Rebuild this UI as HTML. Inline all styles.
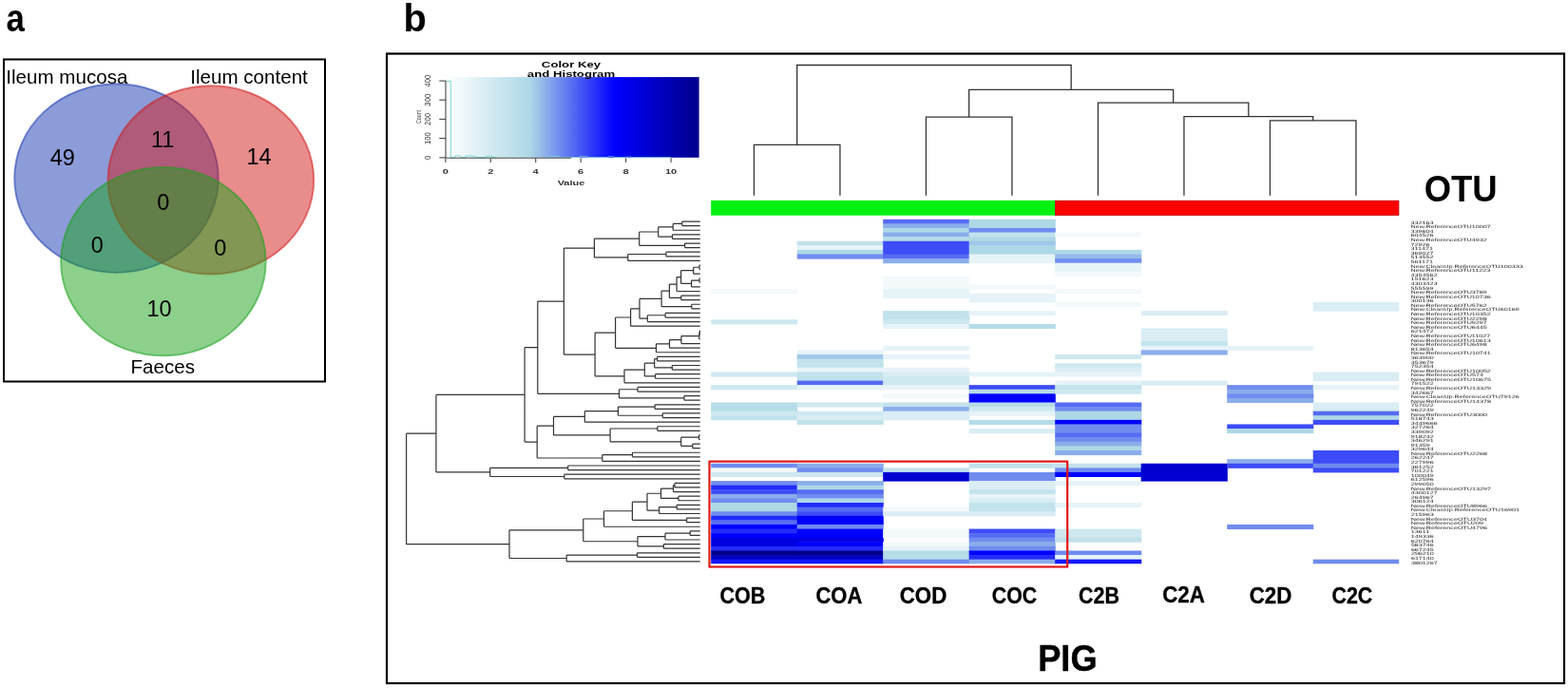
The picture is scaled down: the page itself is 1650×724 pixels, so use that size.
<!DOCTYPE html>
<html><head><meta charset="utf-8"><title>Figure</title>
<style>
html,body{margin:0;padding:0;background:#fff;width:1650px;height:724px;overflow:hidden;}
svg{display:block;font-family:'Liberation Sans', Arial, Helvetica, sans-serif;}
</style></head><body>
<svg width="1650" height="724" viewBox="0 0 1650 724">
<rect width="1650" height="724" fill="#fff"/>
<text x="6" y="32.7" font-size="41" font-weight="bold" transform="translate(1.4 0) scale(0.85 1)">a</text>
<rect x="4" y="62.5" width="338" height="339" fill="none" stroke="#000" stroke-width="2"/>
<ellipse cx="122.5" cy="187.6" rx="107.3" ry="99.3" fill="#1939b1" fill-opacity="0.5" stroke="#1939b1" stroke-opacity="0.55" stroke-width="1.9"/>
<ellipse cx="221.9" cy="189.4" rx="108.3" ry="99.1" fill="#d11919" fill-opacity="0.5" stroke="#d11919" stroke-opacity="0.55" stroke-width="1.9"/>
<ellipse cx="171.9" cy="275.2" rx="107.8" ry="99.2" fill="#19a119" fill-opacity="0.5" stroke="#19a119" stroke-opacity="0.55" stroke-width="1.9"/>
<g font-size="20.6">
<text x="6.2" y="87.6">Ileum mucosa</text>
<text x="200.2" y="87.8">Ileum content</text>
<text x="171.3" y="393.4" text-anchor="middle">Faeces</text>
</g>
<g font-size="23.5" text-anchor="middle">
<text x="65.85" y="174.3">49</text>
<text x="171.2" y="155.1">11</text>
<text x="272.6" y="172.5">14</text>
<text x="171.8" y="221.4">0</text>
<text x="102.3" y="266.3">0</text>
<text x="231.7" y="269.0">0</text>
<text x="167.5" y="332.5">10</text>
</g>
<text x="0" y="0" font-size="41" font-weight="bold" transform="translate(424.6 32.9) scale(0.97 1)">b</text>
<rect x="407" y="56.5" width="1239" height="662.5" fill="none" stroke="#000" stroke-width="2.2"/>
<defs><linearGradient id="ck" x1="0" x2="1" y1="0" y2="0"><stop offset="0" stop-color="#ffffff"/><stop offset="0.333" stop-color="#add8e6"/><stop offset="0.667" stop-color="#0000ff"/><stop offset="1" stop-color="#00008b"/></linearGradient></defs>
<rect x="468.8" y="81.1" width="266.8" height="84.7" fill="url(#ck)"/>
<g font-weight="bold" font-size="8.8" text-anchor="middle" transform="translate(601 0) scale(1.5 1)"><text x="0" y="70.9">Color Key</text><text x="0" y="81.5">and Histogram</text></g>
<path d="M469 85.3H474.3V166" fill="none" stroke="#74d8d0" stroke-width="1"/>
<path d="M474.3 165.6H478.8V164H484.8V165.6H490.3V164H496V164.6H500.6V165.6H511.5V164.4H518.2V165.6H522" fill="none" stroke="#74d8d0" stroke-width="0.9"/>
<path d="M575 165.5H580V164.5H588V165.5H610V164.6H618V165.5H640V164.8H646V165.5H660V165H664V165.5H706" fill="none" stroke="#74d8d0" stroke-width="0.9" opacity="0.8"/>
<g stroke="#444" stroke-width="1.1" fill="none">
<path d="M469 85.1V165.9"/>
<path d="M462.3 85.1H469"/>
<path d="M462.3 105.2H469"/>
<path d="M462.3 125.4H469"/>
<path d="M462.3 145.6H469"/>
<path d="M462.3 165.9H469"/>
<path d="M468.8 166.3H601"/>
<path d="M468.8 166.3V171.1"/>
<path d="M516.26 166.3V171.1"/>
<path d="M563.72 166.3V171.1"/>
<path d="M611.18 166.3V171.1"/>
<path d="M658.64 166.3V171.1"/>
<path d="M706.1 166.3V171.1"/>
</g>
<g font-size="7.2" fill="#333" font-weight="bold" text-anchor="middle">
<text transform="translate(468.8 182.8) scale(1.55 1)" x="0" y="0">0</text>
<text transform="translate(516.26 182.8) scale(1.55 1)" x="0" y="0">2</text>
<text transform="translate(563.72 182.8) scale(1.55 1)" x="0" y="0">4</text>
<text transform="translate(611.18 182.8) scale(1.55 1)" x="0" y="0">6</text>
<text transform="translate(658.64 182.8) scale(1.55 1)" x="0" y="0">8</text>
<text transform="translate(706.1 182.8) scale(1.55 1)" x="0" y="0">10</text>
<text transform="translate(601 195.2) scale(1.45 1)" x="0" y="0" font-size="7.6">Value</text>
<text transform="translate(453.4 85.1) scale(1.22 1) rotate(-90)" x="0" y="0" font-size="7.8" font-weight="normal">400</text>
<text transform="translate(453.4 105.2) scale(1.22 1) rotate(-90)" x="0" y="0" font-size="7.8" font-weight="normal">300</text>
<text transform="translate(453.4 125.4) scale(1.22 1) rotate(-90)" x="0" y="0" font-size="7.8" font-weight="normal">200</text>
<text transform="translate(453.4 145.6) scale(1.22 1) rotate(-90)" x="0" y="0" font-size="7.8" font-weight="normal">100</text>
<text transform="translate(453.4 165.9) scale(1.22 1) rotate(-90)" x="0" y="0" font-size="7.8" font-weight="normal">0</text>
<text transform="translate(443.2 123) scale(1.3 1) rotate(-90)" x="0" y="0" font-size="5.3" font-weight="normal">Count</text>
</g>
<path d="M793.45 205.8V152.4H883.95V205.8M974.45 205.8V123.2H1064.95V205.8M1336.45 205.8V126.8H1426.95V205.8M1245.95 205.8V122.7H1381.7V126.8M1155.45 205.8V108.2H1313.83V122.7M1019.7 123.2V94.4H1234.64V108.2M838.7 152.4V68.5H1127.17V94.4" fill="none" stroke="#333" stroke-width="1.3"/>
<rect x="748.2" y="210.9" width="362" height="15.8" fill="#00f010"/>
<rect x="1110.6" y="211.2" width="361.3" height="15.2" fill="#ff0000" stroke="#c00000" stroke-width="0.8"/>
<g shape-rendering="auto"><rect x="748.2" y="304.21" width="91.1" height="5.09" fill="#f3f9fb"/><rect x="748.2" y="336.32" width="91.1" height="5.09" fill="#cee8f0"/><rect x="748.2" y="391.38" width="91.1" height="5.09" fill="#cee8f0"/><rect x="748.2" y="405.14" width="91.1" height="5.09" fill="#cee8f0"/><rect x="748.2" y="423.5" width="91.1" height="9.68" fill="#b5dce8"/><rect x="748.2" y="432.67" width="91.1" height="5.09" fill="#cee8f0"/><rect x="748.2" y="437.26" width="91.1" height="5.09" fill="#c2e2ec"/><rect x="748.2" y="487.73" width="91.1" height="5.09" fill="#708cef"/><rect x="748.2" y="492.32" width="91.1" height="5.09" fill="#f3f9fb"/><rect x="748.2" y="496.9" width="91.1" height="5.09" fill="#cee8f0"/><rect x="748.2" y="506.08" width="91.1" height="5.09" fill="#708cef"/><rect x="748.2" y="510.67" width="91.1" height="5.09" fill="#232bfa"/><rect x="748.2" y="515.26" width="91.1" height="5.09" fill="#3d4cf6"/><rect x="748.2" y="519.84" width="91.1" height="5.09" fill="#8aadeb"/><rect x="748.2" y="524.43" width="91.1" height="5.09" fill="#708cef"/><rect x="748.2" y="529.02" width="91.1" height="9.68" fill="#add8e6"/><rect x="748.2" y="538.2" width="91.1" height="5.09" fill="#708cef"/><rect x="748.2" y="542.78" width="91.1" height="5.09" fill="#232bfa"/><rect x="748.2" y="547.37" width="91.1" height="5.09" fill="#566cf2"/><rect x="748.2" y="551.96" width="91.1" height="5.09" fill="#0000ff"/><rect x="748.2" y="556.55" width="91.1" height="5.09" fill="#232bfa"/><rect x="748.2" y="561.14" width="91.1" height="5.09" fill="#0000ff"/><rect x="748.2" y="565.72" width="91.1" height="9.68" fill="#0000e2"/><rect x="748.2" y="574.9" width="91.1" height="5.09" fill="#232bfa"/><rect x="748.2" y="579.49" width="91.1" height="5.09" fill="#00008b"/><rect x="748.2" y="584.08" width="91.1" height="5.09" fill="#0000bf"/><rect x="748.2" y="588.66" width="91.1" height="4.59" fill="#1318fc"/><rect x="838.7" y="253.74" width="91.1" height="5.09" fill="#c2e2ec"/><rect x="838.7" y="258.33" width="91.1" height="5.09" fill="#e6f3f8"/><rect x="838.7" y="262.92" width="91.1" height="5.09" fill="#add8e6"/><rect x="838.7" y="267.5" width="91.1" height="5.09" fill="#708cef"/><rect x="838.7" y="368.44" width="91.1" height="5.09" fill="#e6f3f8"/><rect x="838.7" y="373.03" width="91.1" height="5.09" fill="#9fc7e8"/><rect x="838.7" y="377.62" width="91.1" height="9.68" fill="#c2e2ec"/><rect x="838.7" y="386.79" width="91.1" height="5.09" fill="#e6f3f8"/><rect x="838.7" y="391.38" width="91.1" height="9.68" fill="#c2e2ec"/><rect x="838.7" y="400.56" width="91.1" height="5.09" fill="#566cf2"/><rect x="838.7" y="405.14" width="91.1" height="5.09" fill="#e6f3f8"/><rect x="838.7" y="423.5" width="91.1" height="5.09" fill="#cee8f0"/><rect x="838.7" y="432.67" width="91.1" height="5.09" fill="#cee8f0"/><rect x="838.7" y="437.26" width="91.1" height="5.09" fill="#daedf4"/><rect x="838.7" y="441.85" width="91.1" height="5.09" fill="#c2e2ec"/><rect x="838.7" y="487.73" width="91.1" height="5.09" fill="#8aadeb"/><rect x="838.7" y="492.32" width="91.1" height="5.09" fill="#708cef"/><rect x="838.7" y="496.9" width="91.1" height="5.09" fill="#cee8f0"/><rect x="838.7" y="506.08" width="91.1" height="5.09" fill="#8aadeb"/><rect x="838.7" y="510.67" width="91.1" height="5.09" fill="#add8e6"/><rect x="838.7" y="515.26" width="91.1" height="5.09" fill="#566cf2"/><rect x="838.7" y="519.84" width="91.1" height="5.09" fill="#708cef"/><rect x="838.7" y="524.43" width="91.1" height="5.09" fill="#add8e6"/><rect x="838.7" y="529.02" width="91.1" height="5.09" fill="#232bfa"/><rect x="838.7" y="533.61" width="91.1" height="5.09" fill="#566cf2"/><rect x="838.7" y="538.2" width="91.1" height="5.09" fill="#3d4cf6"/><rect x="838.7" y="542.78" width="91.1" height="9.68" fill="#0000ff"/><rect x="838.7" y="551.96" width="91.1" height="5.09" fill="#708cef"/><rect x="838.7" y="556.55" width="91.1" height="9.68" fill="#0000ff"/><rect x="838.7" y="565.72" width="91.1" height="5.09" fill="#0000e2"/><rect x="838.7" y="570.31" width="91.1" height="5.09" fill="#0000ff"/><rect x="838.7" y="574.9" width="91.1" height="5.09" fill="#232bfa"/><rect x="838.7" y="579.49" width="91.1" height="5.09" fill="#00008b"/><rect x="838.7" y="584.08" width="91.1" height="5.09" fill="#0000bf"/><rect x="838.7" y="588.66" width="91.1" height="4.59" fill="#1318fc"/><rect x="929.2" y="230.8" width="91.1" height="5.09" fill="#566cf2"/><rect x="929.2" y="235.39" width="91.1" height="5.09" fill="#8aadeb"/><rect x="929.2" y="239.98" width="91.1" height="5.09" fill="#add8e6"/><rect x="929.2" y="244.56" width="91.1" height="5.09" fill="#8aadeb"/><rect x="929.2" y="249.15" width="91.1" height="5.09" fill="#b5dce8"/><rect x="929.2" y="253.74" width="91.1" height="14.26" fill="#3d4cf6"/><rect x="929.2" y="267.5" width="91.1" height="5.09" fill="#566cf2"/><rect x="929.2" y="272.09" width="91.1" height="5.09" fill="#8aadeb"/><rect x="929.2" y="290.44" width="91.1" height="14.26" fill="#f3f9fb"/><rect x="929.2" y="304.21" width="91.1" height="9.68" fill="#e6f3f8"/><rect x="929.2" y="327.15" width="91.1" height="9.68" fill="#c2e2ec"/><rect x="929.2" y="336.32" width="91.1" height="5.09" fill="#cee8f0"/><rect x="929.2" y="340.91" width="91.1" height="5.09" fill="#e6f3f8"/><rect x="929.2" y="363.85" width="91.1" height="5.09" fill="#e6f3f8"/><rect x="929.2" y="373.03" width="91.1" height="5.09" fill="#e6f3f8"/><rect x="929.2" y="386.79" width="91.1" height="5.09" fill="#e6f3f8"/><rect x="929.2" y="391.38" width="91.1" height="5.09" fill="#daedf4"/><rect x="929.2" y="395.97" width="91.1" height="9.68" fill="#cee8f0"/><rect x="929.2" y="405.14" width="91.1" height="5.09" fill="#e6f3f8"/><rect x="929.2" y="414.32" width="91.1" height="5.09" fill="#f3f9fb"/><rect x="929.2" y="423.5" width="91.1" height="5.09" fill="#c2e2ec"/><rect x="929.2" y="428.08" width="91.1" height="5.09" fill="#8aadeb"/><rect x="929.2" y="432.67" width="91.1" height="9.68" fill="#daedf4"/><rect x="929.2" y="492.32" width="91.1" height="5.09" fill="#c2e2ec"/><rect x="929.2" y="496.9" width="91.1" height="9.68" fill="#0000d1"/><rect x="929.2" y="533.61" width="91.1" height="5.09" fill="#f3f9fb"/><rect x="929.2" y="538.2" width="91.1" height="5.09" fill="#daedf4"/><rect x="929.2" y="556.55" width="91.1" height="9.68" fill="#f3f9fb"/><rect x="929.2" y="570.31" width="91.1" height="5.09" fill="#f3f9fb"/><rect x="929.2" y="574.9" width="91.1" height="5.09" fill="#e6f3f8"/><rect x="929.2" y="579.49" width="91.1" height="9.68" fill="#b5dce8"/><rect x="929.2" y="588.66" width="91.1" height="4.59" fill="#708cef"/><rect x="1019.7" y="230.8" width="91.1" height="9.68" fill="#add8e6"/><rect x="1019.7" y="239.98" width="91.1" height="5.09" fill="#708cef"/><rect x="1019.7" y="244.56" width="91.1" height="5.09" fill="#c2e2ec"/><rect x="1019.7" y="249.15" width="91.1" height="5.09" fill="#add8e6"/><rect x="1019.7" y="253.74" width="91.1" height="5.09" fill="#9fc7e8"/><rect x="1019.7" y="258.33" width="91.1" height="9.68" fill="#add8e6"/><rect x="1019.7" y="267.5" width="91.1" height="9.68" fill="#e6f3f8"/><rect x="1019.7" y="299.62" width="91.1" height="5.09" fill="#f3f9fb"/><rect x="1019.7" y="308.8" width="91.1" height="9.68" fill="#e6f3f8"/><rect x="1019.7" y="327.15" width="91.1" height="5.09" fill="#e6f3f8"/><rect x="1019.7" y="340.91" width="91.1" height="5.09" fill="#b5dce8"/><rect x="1019.7" y="391.38" width="91.1" height="5.09" fill="#e6f3f8"/><rect x="1019.7" y="405.14" width="91.1" height="5.09" fill="#3d4cf6"/><rect x="1019.7" y="409.73" width="91.1" height="5.09" fill="#b5dce8"/><rect x="1019.7" y="414.32" width="91.1" height="9.68" fill="#0000ff"/><rect x="1019.7" y="423.5" width="91.1" height="5.09" fill="#b5dce8"/><rect x="1019.7" y="428.08" width="91.1" height="5.09" fill="#cee8f0"/><rect x="1019.7" y="432.67" width="91.1" height="5.09" fill="#e6f3f8"/><rect x="1019.7" y="441.85" width="91.1" height="5.09" fill="#b5dce8"/><rect x="1019.7" y="451.02" width="91.1" height="5.09" fill="#daedf4"/><rect x="1019.7" y="487.73" width="91.1" height="5.09" fill="#c2e2ec"/><rect x="1019.7" y="496.9" width="91.1" height="9.68" fill="#708cef"/><rect x="1019.7" y="506.08" width="91.1" height="9.68" fill="#daedf4"/><rect x="1019.7" y="515.26" width="91.1" height="5.09" fill="#c2e2ec"/><rect x="1019.7" y="519.84" width="91.1" height="5.09" fill="#e6f3f8"/><rect x="1019.7" y="524.43" width="91.1" height="5.09" fill="#daedf4"/><rect x="1019.7" y="529.02" width="91.1" height="9.68" fill="#c2e2ec"/><rect x="1019.7" y="538.2" width="91.1" height="5.09" fill="#daedf4"/><rect x="1019.7" y="556.55" width="91.1" height="5.09" fill="#3d4cf6"/><rect x="1019.7" y="561.14" width="91.1" height="5.09" fill="#566cf2"/><rect x="1019.7" y="565.72" width="91.1" height="5.09" fill="#708cef"/><rect x="1019.7" y="570.31" width="91.1" height="5.09" fill="#8aadeb"/><rect x="1019.7" y="574.9" width="91.1" height="5.09" fill="#708cef"/><rect x="1019.7" y="579.49" width="91.1" height="5.09" fill="#0000ff"/><rect x="1019.7" y="584.08" width="91.1" height="5.09" fill="#232bfa"/><rect x="1019.7" y="588.66" width="91.1" height="4.59" fill="#8aadeb"/><rect x="1110.2" y="244.56" width="91.1" height="5.09" fill="#f3f9fb"/><rect x="1110.2" y="262.92" width="91.1" height="5.09" fill="#add8e6"/><rect x="1110.2" y="267.5" width="91.1" height="5.09" fill="#95baea"/><rect x="1110.2" y="272.09" width="91.1" height="5.09" fill="#708cef"/><rect x="1110.2" y="276.68" width="91.1" height="9.68" fill="#e6f3f8"/><rect x="1110.2" y="285.86" width="91.1" height="5.09" fill="#f3f9fb"/><rect x="1110.2" y="304.21" width="91.1" height="5.09" fill="#f3f9fb"/><rect x="1110.2" y="317.97" width="91.1" height="5.09" fill="#f3f9fb"/><rect x="1110.2" y="373.03" width="91.1" height="5.09" fill="#cee8f0"/><rect x="1110.2" y="382.2" width="91.1" height="5.09" fill="#cee8f0"/><rect x="1110.2" y="386.79" width="91.1" height="5.09" fill="#daedf4"/><rect x="1110.2" y="391.38" width="91.1" height="5.09" fill="#e6f3f8"/><rect x="1110.2" y="400.56" width="91.1" height="5.09" fill="#e6f3f8"/><rect x="1110.2" y="405.14" width="91.1" height="5.09" fill="#c2e2ec"/><rect x="1110.2" y="409.73" width="91.1" height="5.09" fill="#cee8f0"/><rect x="1110.2" y="423.5" width="91.1" height="5.09" fill="#566cf2"/><rect x="1110.2" y="428.08" width="91.1" height="5.09" fill="#708cef"/><rect x="1110.2" y="432.67" width="91.1" height="9.68" fill="#add8e6"/><rect x="1110.2" y="441.85" width="91.1" height="5.09" fill="#0000ff"/><rect x="1110.2" y="446.44" width="91.1" height="9.68" fill="#708cef"/><rect x="1110.2" y="455.61" width="91.1" height="5.09" fill="#566cf2"/><rect x="1110.2" y="460.2" width="91.1" height="5.09" fill="#708cef"/><rect x="1110.2" y="464.79" width="91.1" height="5.09" fill="#8aadeb"/><rect x="1110.2" y="469.38" width="91.1" height="5.09" fill="#add8e6"/><rect x="1110.2" y="473.96" width="91.1" height="5.09" fill="#8aadeb"/><rect x="1110.2" y="487.73" width="91.1" height="5.09" fill="#c2e2ec"/><rect x="1110.2" y="492.32" width="91.1" height="5.09" fill="#708cef"/><rect x="1110.2" y="496.9" width="91.1" height="5.09" fill="#0000ff"/><rect x="1110.2" y="506.08" width="91.1" height="5.09" fill="#e6f3f8"/><rect x="1110.2" y="529.02" width="91.1" height="5.09" fill="#e6f3f8"/><rect x="1110.2" y="556.55" width="91.1" height="9.68" fill="#cee8f0"/><rect x="1110.2" y="565.72" width="91.1" height="5.09" fill="#c2e2ec"/><rect x="1110.2" y="579.49" width="91.1" height="5.09" fill="#708cef"/><rect x="1110.2" y="584.08" width="91.1" height="5.09" fill="#e6f3f8"/><rect x="1110.2" y="588.66" width="91.1" height="4.59" fill="#1318fc"/><rect x="1200.7" y="327.15" width="91.1" height="5.09" fill="#daedf4"/><rect x="1200.7" y="345.5" width="91.1" height="14.26" fill="#daedf4"/><rect x="1200.7" y="359.26" width="91.1" height="5.09" fill="#c2e2ec"/><rect x="1200.7" y="363.85" width="91.1" height="5.09" fill="#e6f3f8"/><rect x="1200.7" y="368.44" width="91.1" height="5.09" fill="#8aadeb"/><rect x="1200.7" y="400.56" width="91.1" height="5.09" fill="#daedf4"/><rect x="1200.7" y="487.73" width="91.1" height="18.85" fill="#0000d1"/><rect x="1291.2" y="363.85" width="91.1" height="5.09" fill="#e6f3f8"/><rect x="1291.2" y="405.14" width="91.1" height="5.09" fill="#708cef"/><rect x="1291.2" y="409.73" width="91.1" height="5.09" fill="#8aadeb"/><rect x="1291.2" y="414.32" width="91.1" height="5.09" fill="#708cef"/><rect x="1291.2" y="418.91" width="91.1" height="5.09" fill="#8aadeb"/><rect x="1291.2" y="446.44" width="91.1" height="5.09" fill="#3d4cf6"/><rect x="1291.2" y="451.02" width="91.1" height="5.09" fill="#add8e6"/><rect x="1291.2" y="483.14" width="91.1" height="5.09" fill="#8aadeb"/><rect x="1291.2" y="487.73" width="91.1" height="5.09" fill="#3d4cf6"/><rect x="1291.2" y="551.96" width="91.1" height="5.09" fill="#708cef"/><rect x="1381.7" y="317.97" width="90.5" height="9.68" fill="#daedf4"/><rect x="1381.7" y="391.38" width="90.5" height="9.68" fill="#daedf4"/><rect x="1381.7" y="405.14" width="90.5" height="5.09" fill="#e6f3f8"/><rect x="1381.7" y="423.5" width="90.5" height="9.68" fill="#daedf4"/><rect x="1381.7" y="432.67" width="90.5" height="5.09" fill="#566cf2"/><rect x="1381.7" y="437.26" width="90.5" height="5.09" fill="#add8e6"/><rect x="1381.7" y="441.85" width="90.5" height="5.09" fill="#3d4cf6"/><rect x="1381.7" y="473.96" width="90.5" height="14.26" fill="#3d4cf6"/><rect x="1381.7" y="487.73" width="90.5" height="5.09" fill="#708cef"/><rect x="1381.7" y="492.32" width="90.5" height="5.09" fill="#3d4cf6"/><rect x="1381.7" y="588.66" width="90.5" height="4.59" fill="#708cef"/></g>
<path d="M717.8 233.09H736.8M717.8 237.68H736.8M717.8 233.09V237.68M708.2 235.39H717.8M708.2 242.27H736.8M708.2 235.39V242.27M707.5 246.86H736.8M707.5 251.45H736.8M707.5 246.86V251.45M692.7 238.83H708.2M692.7 249.15H707.5M692.7 238.83V249.15M720.6 256.03H736.8M720.6 260.62H736.8M720.6 256.03V260.62M672.7 243.99H692.7M672.7 258.33H720.6M672.7 243.99V258.33M700.9 265.21H736.8M700.9 269.8H736.8M700.9 265.21V269.8M660.7 267.5H700.9M660.7 274.39H736.8M660.7 267.5V274.39M625.4 251.16H672.7M625.4 270.95H660.7M625.4 251.16V270.95M736 278.97H736.8M736 283.56H736.8M736 278.97V283.56M729.7 281.27H736M729.7 288.15H736.8M729.7 281.27V288.15M736 292.74H736.8M736 297.33H736.8M736 292.74V297.33M727.6 295.03H736M727.6 301.91H736.8M727.6 295.03V301.91M716.6 284.71H729.7M716.6 298.47H727.6M716.6 284.71V298.47M712.1 291.59H716.6M712.1 306.5H736.8M712.1 291.59V306.5M716.8 311.09H736.8M716.8 315.68H736.8M716.8 311.09V315.68M704.4 299.05H712.1M704.4 313.38H716.8M704.4 299.05V313.38M727.8 320.27H736.8M727.8 324.85H736.8M727.8 320.27V324.85M696.1 306.22H704.4M696.1 322.56H727.8M696.1 306.22V322.56M700.1 329.44H736.8M700.1 334.03H736.8M700.1 329.44V334.03M681.3 331.74H700.1M681.3 338.62H736.8M681.3 331.74V338.62M673 314.39H696.1M673 335.18H681.3M673 314.39V335.18M663.6 324.78H673M663.6 343.21H736.8M663.6 324.78V343.21M736.3 347.79H736.8M736.3 352.38H736.8M736.3 347.79V352.38M735.8 350.09H736.3M735.8 356.97H736.8M735.8 350.09V356.97M716.9 353.53H735.8M716.9 361.56H736.8M716.9 353.53V361.56M704.5 357.54H716.9M704.5 366.15H736.8M704.5 357.54V366.15M690.5 361.84H704.5M690.5 370.73H736.8M690.5 361.84V370.73M647.6 333.99H663.6M647.6 366.29H690.5M647.6 333.99V366.29M691.6 375.32H736.8M691.6 379.91H736.8M691.6 375.32V379.91M707.3 384.5H736.8M707.3 389.09H736.8M707.3 384.5V389.09M688.7 377.62H691.6M688.7 386.79H707.3M688.7 377.62V386.79M689.6 393.67H736.8M689.6 398.26H736.8M689.6 393.67V398.26M678.3 382.2H688.7M678.3 395.97H689.6M678.3 382.2V395.97M657 389.09H678.3M657 402.85H736.8M657 389.09V402.85M626.1 350.14H647.6M626.1 395.97H657M626.1 350.14V395.97M593.4 261.05H625.4M593.4 373.05H626.1M593.4 261.05V373.05M671 407.44H736.8M671 412.03H736.8M671 407.44V412.03M720 416.61H736.8M720 421.2H736.8M720 416.61V421.2M651.5 409.73H671M651.5 418.91H720M651.5 409.73V418.91M565.8 317.05H593.4M565.8 414.32H651.5M565.8 317.05V414.32M689.1 425.79H736.8M689.1 430.38H736.8M689.1 425.79V430.38M697.3 434.97H736.8M697.3 439.55H736.8M697.3 434.97V439.55M650.4 428.08H689.1M650.4 437.26H697.3M650.4 428.08V437.26M615.3 432.67H650.4M615.3 444.14H736.8M615.3 432.67V444.14M691.8 448.73H736.8M691.8 453.32H736.8M691.8 448.73V453.32M735.5 457.91H736.8M735.5 462.49H736.8M735.5 457.91V462.49M728.8 467.08H736.8M728.8 471.67H736.8M728.8 467.08V471.67M716.7 460.2H735.5M716.7 469.38H728.8M716.7 460.2V469.38M642.1 451.02H691.8M642.1 464.79H716.7M642.1 451.02V464.79M582.5 438.41H615.3M582.5 457.91H642.1M582.5 438.41V457.91M665.5 476.26H736.8M665.5 480.85H736.8M665.5 476.26V480.85M633.8 478.55H665.5M633.8 485.43H736.8M633.8 478.55V485.43M565.2 448.16H582.5M565.2 481.99H633.8M565.2 448.16V481.99M552.1 365.69H565.8M552.1 465.07H565.2M552.1 365.69V465.07M597.7 490.02H736.8M597.7 494.61H736.8M597.7 490.02V494.61M593.8 499.2H736.8M593.8 503.79H736.8M593.8 499.2V503.79M515.7 492.32H597.7M515.7 501.49H593.8M515.7 492.32V501.49M458.9 415.38H552.1M458.9 496.9H515.7M458.9 415.38V496.9M710 508.37H736.8M710 512.96H736.8M710 508.37V512.96M708.5 510.67H710M708.5 517.55H736.8M708.5 510.67V517.55M713.9 522.14H736.8M713.9 526.73H736.8M713.9 522.14V526.73M695.5 514.11H708.5M695.5 524.43H713.9M695.5 514.11V524.43M712.2 531.31H736.8M712.2 535.9H736.8M712.2 531.31V535.9M693.6 533.61H712.2M693.6 540.49H736.8M693.6 533.61V540.49M681 519.27H695.5M681 537.05H693.6M681 519.27V537.05M722.6 545.08H736.8M722.6 549.67H736.8M722.6 545.08V549.67M665.4 528.16H681M665.4 547.37H722.6M665.4 528.16V547.37M635.5 537.77H665.4M635.5 554.25H736.8M635.5 537.77V554.25M726.2 558.84H736.8M726.2 563.43H736.8M726.2 558.84V563.43M700 561.14H726.2M700 568.02H736.8M700 561.14V568.02M698.4 572.61H736.8M698.4 577.19H736.8M698.4 572.61V577.19M671 564.58H700M671 574.9H698.4M671 564.58V574.9M613.8 546.01H635.5M613.8 569.74H671M613.8 546.01V569.74M670.5 581.78H736.8M670.5 586.37H736.8M670.5 581.78V586.37M596.2 584.08H670.5M596.2 590.96H736.8M596.2 584.08V590.96M536 557.87H613.8M536 587.52H596.2M536 557.87V587.52M427.6 456.14H458.9M427.6 572.7H536M427.6 456.14V572.7" fill="none" stroke="#333" stroke-width="1.2"/>
<rect x="746.5" y="485.6" width="376.7" height="110.9" fill="none" stroke="#e01818" stroke-width="2.2"/>
<g font-size="4.7" fill="#222" transform="translate(1484.3 0) matrix(1.53 0 0.001 1 0 0)"><text x="0" y="235.69">332163</text><text x="0" y="240.28">New.ReferenceOTU10007</text><text x="0" y="244.87">339604</text><text x="0" y="249.46">604526</text><text x="0" y="254.05">New.ReferenceOTU4932</text><text x="0" y="258.63">72926</text><text x="0" y="263.22">311471</text><text x="0" y="267.81">369027</text><text x="0" y="272.4">513552</text><text x="0" y="276.99">561171</text><text x="0" y="281.57">New.CleanUp.ReferenceOTU100333</text><text x="0" y="286.16">New.ReferenceOTU11223</text><text x="0" y="290.75">4354562</text><text x="0" y="295.34">151623</text><text x="0" y="299.93">4303423</text><text x="0" y="304.51">555599</text><text x="0" y="309.1">New.ReferenceOTU3789</text><text x="0" y="313.69">New.ReferenceOTU10736</text><text x="0" y="318.28">300136</text><text x="0" y="322.87">New.ReferenceOTU5762</text><text x="0" y="327.45">New.CleanUp.ReferenceOTU60169</text><text x="0" y="332.04">New.ReferenceOTU10352</text><text x="0" y="336.63">New.ReferenceOTU2298</text><text x="0" y="341.22">New.ReferenceOTU9297</text><text x="0" y="345.81">New.ReferenceOTU6445</text><text x="0" y="350.39">621472</text><text x="0" y="354.98">New.ReferenceOTU11027</text><text x="0" y="359.57">New.ReferenceOTU10613</text><text x="0" y="364.16">New.ReferenceOTU6498</text><text x="0" y="368.75">813654</text><text x="0" y="373.33">New.ReferenceOTU10741</text><text x="0" y="377.92">363900</text><text x="0" y="382.51">353679</text><text x="0" y="387.1">752354</text><text x="0" y="391.69">New.ReferenceOTU10052</text><text x="0" y="396.27">New.ReferenceOTU574</text><text x="0" y="400.86">New.ReferenceOTU10675</text><text x="0" y="405.45">791522</text><text x="0" y="410.04">New.ReferenceOTU13329</text><text x="0" y="414.63">342667</text><text x="0" y="419.21">New.CleanUp.ReferenceOTU79126</text><text x="0" y="423.8">New.ReferenceOTU14378</text><text x="0" y="428.39">757022</text><text x="0" y="432.98">962249</text><text x="0" y="437.57">New.ReferenceOTU3000</text><text x="0" y="442.15">518743</text><text x="0" y="446.74">3449666</text><text x="0" y="451.33">327264</text><text x="0" y="455.92">339092</text><text x="0" y="460.51">918242</text><text x="0" y="465.09">346291</text><text x="0" y="469.68">91359</text><text x="0" y="474.27">329644</text><text x="0" y="478.86">New.ReferenceOTU2268</text><text x="0" y="483.45">262247</text><text x="0" y="488.03">227996</text><text x="0" y="492.62">361252</text><text x="0" y="497.21">701221</text><text x="0" y="501.8">100049</text><text x="0" y="506.39">612596</text><text x="0" y="510.97">299050</text><text x="0" y="515.56">New.ReferenceOTU13297</text><text x="0" y="520.15">4300127</text><text x="0" y="524.74">264967</text><text x="0" y="529.33">306124</text><text x="0" y="533.91">New.ReferenceOTU8966</text><text x="0" y="538.5">New.CleanUp.ReferenceOTU16901</text><text x="0" y="543.09">215963</text><text x="0" y="547.68">New.ReferenceOTU3704</text><text x="0" y="552.27">New.ReferenceOTU209</text><text x="0" y="556.85">New.ReferenceOTU4796</text><text x="0" y="561.44">13611</text><text x="0" y="566.03">149336</text><text x="0" y="570.62">620764</text><text x="0" y="575.21">583746</text><text x="0" y="579.79">667245</text><text x="0" y="584.38">296210</text><text x="0" y="588.97">617140</text><text x="0" y="593.56">3801267</text></g>
<text x="1537.2" y="212.1" font-size="38.4" font-weight="bold" text-anchor="middle" textLength="77" lengthAdjust="spacingAndGlyphs">OTU</text>
<g font-size="23.8" font-weight="bold" stroke="#000" stroke-width="0.35">
<text x="781.45" y="635.3" text-anchor="middle" textLength="47.9" lengthAdjust="spacingAndGlyphs">COB</text>
<text x="882.85" y="635.3" text-anchor="middle" textLength="48.9" lengthAdjust="spacingAndGlyphs">COA</text>
<text x="971.5" y="635.3" text-anchor="middle" textLength="49.6" lengthAdjust="spacingAndGlyphs">COD</text>
<text x="1067.5" y="635.3" text-anchor="middle" textLength="47.4" lengthAdjust="spacingAndGlyphs">COC</text>
<text x="1156.55" y="635.3" text-anchor="middle" textLength="42.9" lengthAdjust="spacingAndGlyphs">C2B</text>
<text x="1245.5" y="634.2" text-anchor="middle" textLength="44.6" lengthAdjust="spacingAndGlyphs">C2A</text>
<text x="1337" y="635.3" text-anchor="middle" textLength="44.6" lengthAdjust="spacingAndGlyphs">C2D</text>
<text x="1422.9" y="635.3" text-anchor="middle" textLength="42.8" lengthAdjust="spacingAndGlyphs">C2C</text>
</g>
<text x="1123.4" y="706.4" font-size="39.5" font-weight="bold" text-anchor="middle" textLength="62.5" lengthAdjust="spacingAndGlyphs" stroke="#000" stroke-width="0.4">PIG</text>
</svg>
</body></html>
